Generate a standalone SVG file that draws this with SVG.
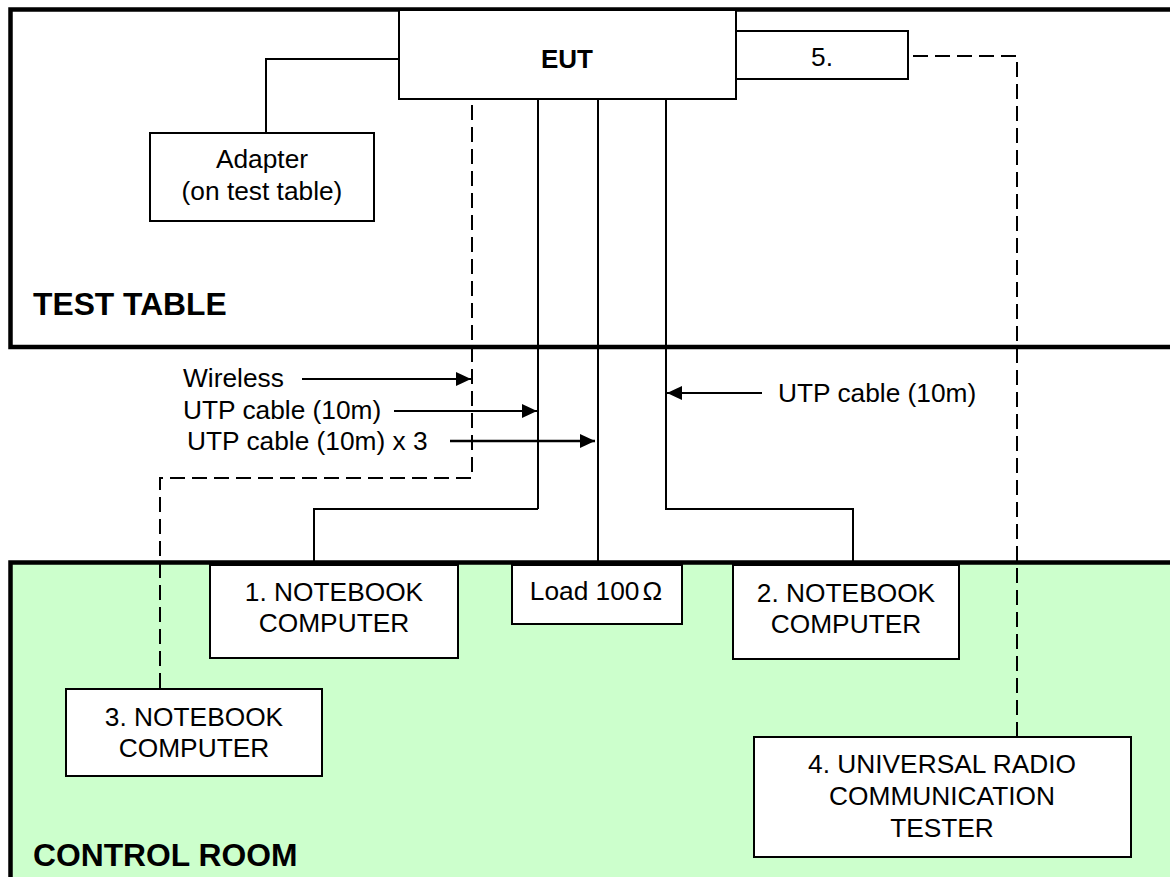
<svg xmlns="http://www.w3.org/2000/svg" width="1170" height="877" viewBox="0 0 1170 877">
<defs>
<style>
.t{font-family:"Liberation Sans",Arial,sans-serif;font-size:26.3px;fill:#000}
.c{text-anchor:middle}
.b{font-weight:bold;font-size:26px}
.big{font-family:"Liberation Sans",Arial,sans-serif;font-size:31.8px;font-weight:bold;fill:#000}
.box{fill:#fff;stroke:#000;stroke-width:2}
.ln{fill:none;stroke:#000;stroke-width:2}
.dash{fill:none;stroke:#000;stroke-width:2;stroke-dasharray:15 7}
.arr{fill:none;stroke:#000;stroke-width:2;marker-end:url(#ah)}
</style>
<marker id="ah" markerUnits="userSpaceOnUse" markerWidth="16" markerHeight="14" refX="15" refY="7" orient="auto">
<path d="M0,0 L15,7 L0,14 Z" fill="#000"/>
</marker>
</defs>
<rect width="1170" height="877" fill="#fff"/>
<g id="test-table">
<rect x="10.5" y="9.5" width="1200" height="337.5" fill="#fff" stroke="#000" stroke-width="4.5"/>
<text class="big" x="33" y="315">TEST TABLE</text>
</g>
<g id="control-room">
<rect x="10.5" y="562.5" width="1200" height="400" fill="#CCFFCC" stroke="#000" stroke-width="4.5"/>
<text class="big" x="33" y="866">CONTROL ROOM</text>
</g>
<g id="connectors">
<polyline class="ln" points="266,133 266,59 399,59"/>
<line class="ln" x1="538" y1="99" x2="538" y2="509"/>
<polyline class="ln" points="538,509 314,509 314,565"/>
<line class="ln" x1="598" y1="99" x2="598" y2="565"/>
<polyline class="ln" points="666,99 666,509 853,509 853,565"/>
<polyline class="dash" points="472,105 472,478 160,478 160,689"/>
<polyline class="dash" points="913,56 1017,56 1017,737"/>
<line class="arr" x1="302" y1="379" x2="471" y2="379"/>
<line class="arr" x1="394" y1="411" x2="537" y2="411"/>
<line class="arr" x1="450" y1="441" x2="595" y2="441" style="stroke-width:2.6"/>
<line class="arr" x1="762" y1="393" x2="667" y2="393"/>
<text class="t" x="183" y="387">Wireless</text>
<text class="t" x="183" y="419">UTP cable (10m)</text>
<text class="t" x="187" y="450">UTP cable (10m) x 3</text>
<text class="t" x="778" y="402">UTP cable (10m)</text>
</g>
<g id="eut">
<rect class="box" x="399" y="10" width="337" height="89"/>
<text class="t c b" x="567" y="68">EUT</text>
</g>
<g id="node5">
<rect class="box" x="736" y="31" width="172" height="48"/>
<text class="t c" x="822" y="66">5.</text>
</g>
<g id="adapter">
<rect class="box" x="150" y="133" width="224" height="88"/>
<text class="t c" x="262" y="168">Adapter</text>
<text class="t c" x="262" y="200">(on test table)</text>
</g>
<g id="nb1">
<rect class="box" x="210" y="565" width="248" height="93"/>
<text class="t c" x="334" y="601">1. NOTEBOOK</text>
<text class="t c" x="334" y="632">COMPUTER</text>
</g>
<g id="load">
<rect class="box" x="512" y="565" width="170" height="59"/>
<text class="t c" x="596" y="600">Load 100<tspan dx="3">Ω</tspan></text>
</g>
<g id="nb2">
<rect class="box" x="733" y="565" width="226" height="94"/>
<text class="t c" x="846" y="602">2. NOTEBOOK</text>
<text class="t c" x="846" y="633">COMPUTER</text>
</g>
<g id="nb3">
<rect class="box" x="66" y="689" width="256" height="87"/>
<text class="t c" x="194" y="726">3. NOTEBOOK</text>
<text class="t c" x="194" y="757">COMPUTER</text>
</g>
<g id="tester">
<rect class="box" x="754" y="737" width="377" height="120"/>
<text class="t c" x="942" y="773">4. UNIVERSAL RADIO</text>
<text class="t c" x="942" y="805">COMMUNICATION</text>
<text class="t c" x="942" y="837">TESTER</text>
</g>
</svg>
